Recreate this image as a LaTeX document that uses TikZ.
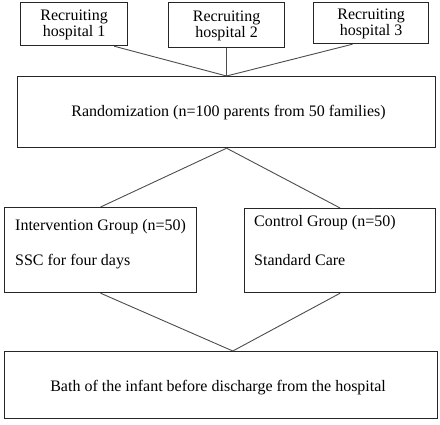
\documentclass[tikz,border=0pt]{standalone}
\usepackage{fontspec}
\setmainfont{Liberation Serif}
\usetikzlibrary{calc}
\begin{document}
\begin{tikzpicture}[x=1pt,y=-1pt,
  box/.style={draw=black!85,line width=1.2pt,inner sep=0pt,anchor=north west},
  conn/.style={draw=black!70,line width=0.9pt},
  txt/.style={font=\fontsize{16}{16.5}\selectfont,inner sep=0pt}]
\useasboundingbox (0,0) rectangle (440,424);
\node[box,minimum width=107,minimum height=43] (h1) at (20,2) {};
\node[box,minimum width=116,minimum height=45] (h2) at (168,2) {};
\node[box,minimum width=115,minimum height=41] (h3) at (313,2) {};
\node[txt,align=center] at ($(h1.center)+(0,1)$) {Recruiting\\hospital 1};
\node[txt,align=center] at ($(h2.center)+(0,1)$) {Recruiting\\hospital 2};
\node[txt,align=center] at ($(h3.center)+(0,1)$) {Recruiting\\hospital 3};
\node[box,minimum width=418,minimum height=71] (rand) at (17,76) {};
\node[txt] at ($(rand.center)+(2,0)$) {Randomization (n=100 parents from 50 families)};
\node[box,minimum width=192,minimum height=85] (int) at (4,207) {};
\node[box,minimum width=191,minimum height=84] (ctl) at (244,208) {};
\node[txt,anchor=west] at ($(int.north west)+(11,20)$) {Intervention Group (n=50)};
\node[txt,anchor=west] at ($(int.north west)+(11,55)$) {SSC for four days};
\node[txt,anchor=west] at ($(ctl.north west)+(10,15)$) {Control Group (n=50)};
\node[txt,anchor=west] at ($(ctl.north west)+(10,52)$) {Standard Care};
\node[box,minimum width=433,minimum height=67] (bath) at (4,351) {};
\node[txt] at ($(bath.center)+(-3,2)$) {Bath of the infant before discharge from the hospital};
\draw[conn] ($(h1.south west)!0.87!(h1.south east)$) -- (rand.north);
\draw[conn] (h2.south) -- (rand.north);
\draw[conn] ($(h3.south west)!0.34!(h3.south east)$) -- (rand.north);
\draw[conn] (rand.south) -- (int.north);
\draw[conn] (rand.south) -- (ctl.north);
\draw[conn] (int.south) -- ($(bath.north west)!0.527!(bath.north east)$);
\draw[conn] (ctl.south) -- ($(bath.north west)!0.527!(bath.north east)$);
\end{tikzpicture}
\end{document}
